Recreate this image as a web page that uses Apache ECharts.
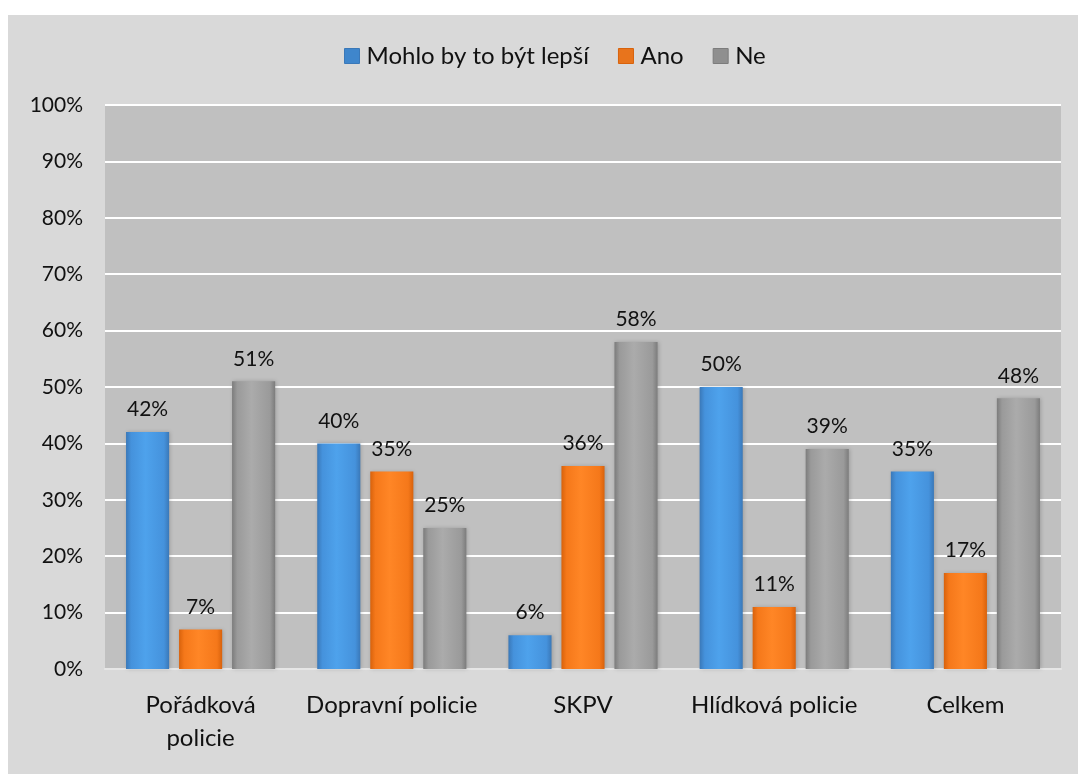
<!DOCTYPE html>
<html>
<head>
<meta charset="utf-8">
<script src="https://cdn.jsdelivr.net/npm/echarts@6/dist/echarts.min.js"></script>
<style>
  html, body { margin: 0; padding: 0; background: #ffffff; }
  #frame { position: absolute; left: 8px; top: 15px; right: 0; bottom: 0; background: #d9d9d9; }
  #chart { position: absolute; left: 0; top: 0; width: 1078px; height: 774px; }
</style>
</head>
<body>
<div id="frame"></div>
<div id="chart"></div>
<script>
// Survey answers per police service (share of respondents, %)
const categories = ['Pořádková\npolicie', 'Dopravní policie', 'SKPV', 'Hlídková policie', 'Celkem'];
const seriesNames = ['Mohlo by to být lepší', 'Ano', 'Ne'];
const betterValues = [42, 40, 6, 50, 35];
const yesValues = [7, 35, 36, 11, 17];
const noValues = [51, 25, 58, 39, 48];
const yTicks = [0, 10, 20, 30, 40, 50, 60, 70, 80, 90, 100];

const fontFamily = 'Lato, "Noto Sans", sans-serif';

function barFill(edge, mid, light) {
  return new echarts.graphic.LinearGradient(0, 0, 1, 0, [
    { offset: 0, color: edge },
    { offset: 0.12, color: mid },
    { offset: 0.45, color: light },
    { offset: 0.88, color: mid },
    { offset: 1, color: edge }
  ]);
}

const palette = [
  { edge: '#3a78b8', mid: '#4592dc', light: '#4ea2ec', legend: '#3f86cc' },
  { edge: '#d8620c', mid: '#f5781a', light: '#ff8626', legend: '#e8741c' },
  { edge: '#7c7c7c', mid: '#9a9a9a', light: '#ababab', legend: '#8f8f8f' }
];

const valueSets = [betterValues, yesValues, noValues];

const chart = echarts.init(document.getElementById('chart'), null, { renderer: 'canvas' });

chart.setOption({
  backgroundColor: 'transparent',
  animation: false,
  textStyle: { fontFamily: fontFamily },
  legend: {
    top: 39,
    left: 339,
    itemWidth: 15,
    itemHeight: 15,
    itemGap: 29,
    textStyle: { fontSize: 24, color: '#111', fontFamily: fontFamily, padding: [0, 0, 0, 2] },
    data: seriesNames.map((n, i) => ({
      name: n,
      icon: 'rect',
      itemStyle: { color: palette[i].legend, borderColor: palette[i].edge, borderWidth: 1 }
    }))
  },
  grid: {
    left: 105,
    right: 17,
    top: 105,
    bottom: 105,
    show: true,
    backgroundColor: '#c0c0c0',
    borderWidth: 0
  },
  xAxis: {
    type: 'category',
    data: categories,
    axisLine: { show: true, lineStyle: { color: '#e6e6e6', width: 2 } },
    axisTick: { show: false },
    axisLabel: {
      fontSize: 24,
      color: '#111',
      margin: 20,
      lineHeight: 33,
      interval: 0
    }
  },
  yAxis: {
    type: 'value',
    min: 0,
    max: 100,
    interval: 10,
    axisLine: { show: false },
    axisTick: { show: false },
    splitLine: { lineStyle: { color: '#ffffff', width: 2 } },
    axisLabel: {
      fontSize: 21,
      color: '#111',
      margin: 22,
      formatter: v => (yTicks.includes(v) ? v + '%' : '')
    }
  },
  series: valueSets.map((vals, i) => ({
    name: seriesNames[i],
    type: 'bar',
    data: vals,
    barGap: '23%',
    barCategoryGap: '22%',
    itemStyle: {
      color: barFill(palette[i].edge, palette[i].mid, palette[i].light),
      shadowColor: 'rgba(0,0,0,0.18)',
      shadowBlur: 4,
      shadowOffsetX: 1,
      shadowOffsetY: 0
    },
    label: {
      show: true,
      position: 'top',
      distance: 12,
      fontSize: 21,
      color: '#111',
      formatter: p => p.value + '%'
    }
  }))
});
</script>
</body>
</html>
